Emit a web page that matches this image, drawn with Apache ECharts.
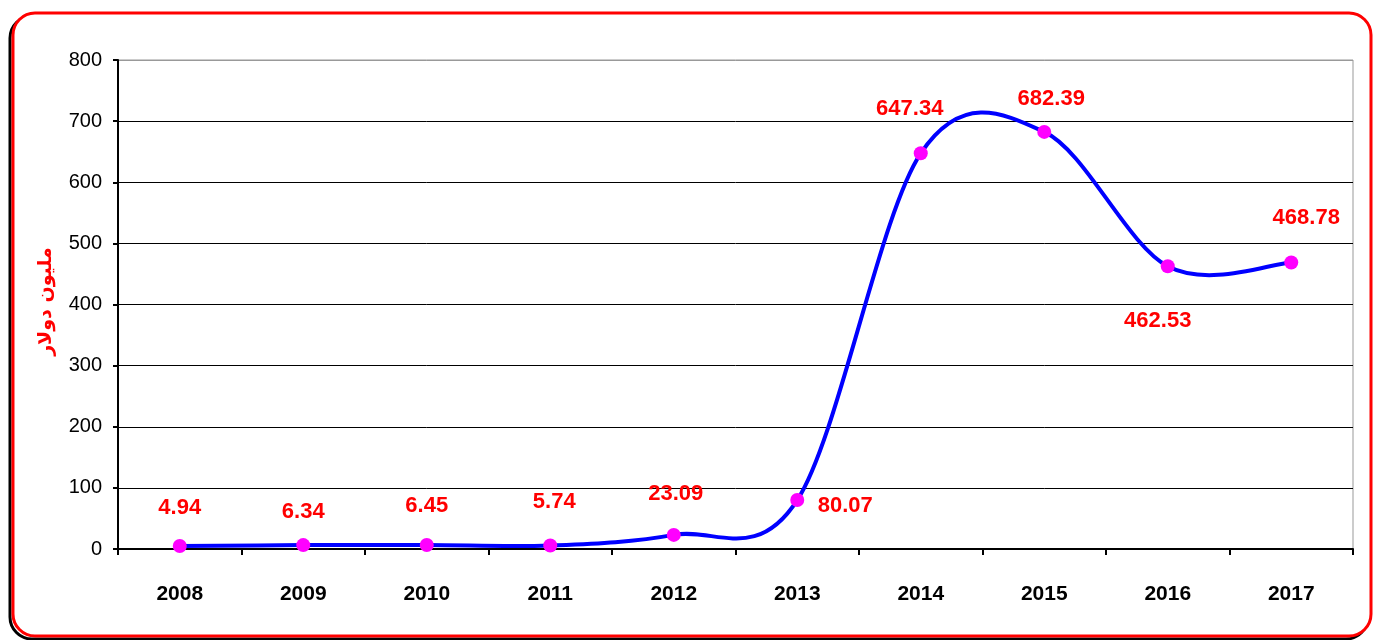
<!DOCTYPE html>
<html><head><meta charset="utf-8">
<script src="https://cdn.jsdelivr.net/npm/echarts@6/dist/echarts.min.js"></script>
<style>html,body{margin:0;padding:0;background:#fff}#c{width:1376px;height:640px}</style>
</head><body><div id="c"></div>
<script>
const years = ['2008','2009','2010','2011','2012','2013','2014','2015','2016','2017'];
const values = [4.94, 6.34, 6.45, 5.74, 23.09, 80.07, 647.34, 682.39, 462.53, 468.78];
const yTicks = [0,100,200,300,400,500,600,700,800];
// label offsets (pixels, relative to the marker centre)
const labelOffsets = [[0,-38],[0,-33],[0,-39],[4,-44],[2,-41],[48,6],[-11,-44],[7,-33],[-10,55],[15,-45]];

const chart = echarts.init(document.getElementById('c'), null, {renderer:'canvas'});
const sans = "'Liberation Sans',Arial,sans-serif";

function curveItem(params, api){
  const i = params.dataIndex;
  const n = values.length;
  if (i >= n - 1) return null;
  const p = k => { const kk = Math.max(0, Math.min(n - 1, k)); return api.coord([kk, values[kk]]); };
  const p0 = p(i - 1), p1 = p(i), p2 = p(i + 1), p3 = p(i + 2);
  return {
    type:'bezierCurve',
    shape:{
      x1:p1[0], y1:p1[1], x2:p2[0], y2:p2[1],
      cpx1:p1[0] + (p2[0] - p0[0]) / 6, cpy1:p1[1] + (p2[1] - p0[1]) / 6,
      cpx2:p2[0] - (p3[0] - p1[0]) / 6, cpy2:p2[1] - (p3[1] - p1[1]) / 6
    },
    style:{stroke:'#0000ff', lineWidth:4, fill:null, lineCap:'round'}
  };
}

chart.setOption({
  animation:false,
  graphic:[
    {type:'rect', z:-10, shape:{x:10,y:16,width:1358,height:623,r:22}, style:{fill:'none',stroke:'#000',lineWidth:3}},
    {type:'rect', z:-9, shape:{x:13,y:13,width:1358,height:623,r:22}, style:{fill:'#fff',stroke:'#ff0000',lineWidth:3}}
  ],
  grid:{left:118,right:23,top:60,bottom:91,show:true,borderColor:'#999',borderWidth:1,backgroundColor:'transparent'},
  xAxis:{
    type:'category', data:years, boundaryGap:true,
    axisLine:{lineStyle:{color:'#000',width:2}},
    axisTick:{show:true,length:6,alignWithLabel:false,lineStyle:{color:'#000',width:2}},
    axisLabel:{color:'#000',fontFamily:sans,fontWeight:'bold',fontSize:21,margin:35}
  },
  yAxis:{
    type:'value', min:0, max:800, interval:100,
    name:'مليون دولار', nameLocation:'middle', nameGap:62, nameRotate:90,
    nameTextStyle:{color:'#ff0000',fontFamily:"'DejaVu Sans',sans-serif",fontWeight:'bold',fontSize:19,padding:[0,0,0,6]},
    axisLine:{show:true,lineStyle:{color:'#000',width:2}},
    axisTick:{show:true,length:5,lineStyle:{color:'#000',width:2}},
    axisLabel:{color:'#000',fontFamily:sans,fontSize:20,margin:16,
      formatter:function(v){return yTicks.indexOf(v)>=0?String(v):'';}},
    splitLine:{show:true,lineStyle:{color:['#000','#000','#000','#000','#000','#000','#000','#000','#999'],width:1}}
  },
  series:[
    {
      type:'custom', renderItem:curveItem, z:2,
      data:values.map((v,i)=>[i,v]), silent:true
    },
    {
      type:'line', z:3,
      data:values.map((v,i)=>({value:v,label:{offset:labelOffsets[i]}})),
      lineStyle:{opacity:0,width:0},
      itemStyle:{color:'#ff00ff'},
      symbol:'circle', symbolSize:14,
      label:{show:true,position:'inside',color:'#ff0000',fontFamily:sans,fontWeight:'bold',fontSize:22,
        formatter:function(p){return values[p.dataIndex].toFixed(2);}}
    }
  ]
});
</script></body></html>
